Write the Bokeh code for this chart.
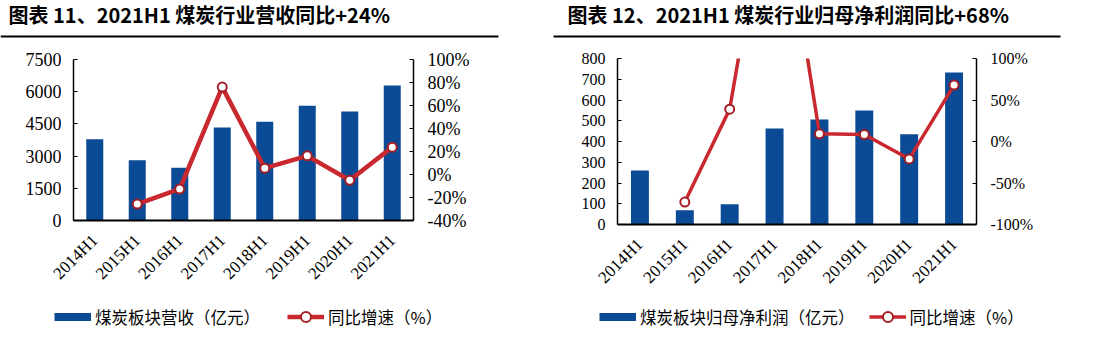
import math
from bokeh.plotting import figure
from bokeh.models import (Range1d, LinearAxis, FixedTicker, PrintfTickFormatter,
                          Legend, LegendItem, FactorRange)
from bokeh.layouts import row, column
from bokeh.core.properties import value
from bokeh.embed import file_html
from bokeh.resources import INLINE

# ---------------- data ----------------
categories = ["2014H1", "2015H1", "2016H1", "2017H1", "2018H1", "2019H1", "2020H1", "2021H1"]
yoy_categories = categories[1:]

revenue = [3780, 2810, 2455, 4330, 4600, 5340, 5080, 6290]          # 亿元
revenue_yoy = [-25.7, -12.6, 76.0, 5.5, 16.2, -5.0, 23.8]           # %
profit = [260, 69, 97, 463, 506, 549, 435, 733]                     # 亿元
profit_yoy = [-73.0, 39.0, 352.0, 9.3, 8.4, -21.0, 68.0]            # %

rev_ticks = [0, 1500, 3000, 4500, 6000, 7500]
rev_yoy_ticks = [-40, -20, 0, 20, 40, 60, 80, 100]
prof_ticks = [0, 100, 200, 300, 400, 500, 600, 700, 800]
prof_yoy_ticks = [-100, -50, 0, 50, 100]

title_left = "图表 11、2021H1 煤炭行业营收同比+24%"
title_right = "图表 12、2021H1 煤炭行业归母净利润同比+68%"
bar_label_left = "煤炭板块营收（亿元）"
bar_label_right = "煤炭板块归母净利润（亿元）"
line_label = "同比增速（%）"

BLUE = "#0B4A94"
RED = "#C9282F"
DARK_RED = "#A51E25"
CJK = "Noto Sans CJK SC"
SERIF = "Liberation Serif"
H_HEAD = 40
H_CHART = 262
H_FOOT = 46


def bare(w, h):
    f = figure(width=w, height=h, x_range=Range1d(0, w), y_range=Range1d(0, h),
               toolbar_location=None, output_backend="svg", min_border=0,
               x_axis_location=None, y_axis_location=None, frame_align=False)
    f.grid.visible = False
    f.outline_line_color = None
    return f


def header(title, w, tx, ux0, ux1):
    h = bare(w, H_HEAD)
    h.text(x=[tx], y=[26], text=[title], text_font=value(CJK), text_font_size="20px",
           text_font_style="bold", text_baseline="middle", text_align="left", text_color="black")
    h.segment(x0=[ux0], y0=[4], x1=[ux1], y1=[4], line_width=2, line_color="black")
    return h


def footer(w, bar_label, lw, loc, spacing):
    f = bare(w, H_FOOT)
    # legend proxies, placed outside the visible frame
    off = [-50, -40]
    bar_proxy = f.line(x=off, y=off, line_width=8, line_color=BLUE, line_cap="butt")
    ln = f.line(x=off, y=off, line_width=lw, line_color=RED)
    sc = f.scatter(x=off, y=off, size=9, fill_color="white", line_color=DARK_RED, line_width=2)
    legend = Legend(items=[LegendItem(label=bar_label, renderers=[bar_proxy]),
                           LegendItem(label=line_label, renderers=[ln, sc])],
                    orientation="horizontal", location=loc,
                    glyph_width=37, glyph_height=25, label_standoff=4, spacing=spacing,
                    label_text_font=CJK, label_text_font_size="16.5px",
                    label_text_color="black", padding=0, margin=0,
                    border_line_color=None, background_fill_alpha=0)
    f.add_layout(legend, "center")
    return f


def chart(w, fl, fr, ft, fb, bars, yoy, y_end, y_ticks, yoy_range, yoy_ticks, lw, tick_size):
    p = figure(width=w, height=H_CHART, x_range=FactorRange(*categories),
               y_range=Range1d(0, y_end), toolbar_location=None, output_backend="svg",
               min_border_left=fl, min_border_right=w - fr,
               min_border_top=ft, min_border_bottom=H_CHART - fb, frame_align=False)
    p.grid.visible = False
    p.outline_line_color = None
    p.extra_y_ranges = {"yoy": Range1d(*yoy_range)}

    p.vbar(x=categories, top=bars, width=0.4, fill_color=BLUE, line_color=None)
    p.line(x=yoy_categories, y=yoy, y_range_name="yoy", line_width=lw,
           line_color=RED, line_join="round")
    p.scatter(x=yoy_categories, y=yoy, y_range_name="yoy", size=9,
              fill_color="white", line_color=DARK_RED, line_width=2)

    ya = p.yaxis[0]
    ya.ticker = FixedTicker(ticks=y_ticks)
    ra = LinearAxis(y_range_name="yoy", ticker=FixedTicker(ticks=yoy_ticks),
                    formatter=PrintfTickFormatter(format="%d%%"))
    p.add_layout(ra, "right")
    for ax, st in ((ya, 12), (ra, 14)):
        ax.major_tick_in = 4
        ax.major_tick_out = 0
        ax.minor_tick_line_color = None
        ax.axis_line_width = 1.5
        ax.axis_line_color = "black"
        ax.major_tick_line_color = "black"
        ax.major_label_text_font = SERIF
        ax.major_label_text_font_size = tick_size
        ax.major_label_text_color = "black"
        ax.major_label_standoff = st

    xa = p.xaxis[0]
    xa.major_label_orientation = math.pi / 4
    xa.major_tick_line_color = None
    xa.minor_tick_line_color = None
    xa.axis_line_width = 2
    xa.axis_line_color = "black"
    xa.major_label_text_font = SERIF
    xa.major_label_text_font_size = "17px"
    xa.major_label_text_color = "black"
    xa.major_label_standoff = 11
    return p


h1 = header(title_left, 550, 8, 0, 498)
p1 = chart(550, 73, 413, 19, 180, revenue, revenue_yoy, 7500, rev_ticks, (-40, 100),
           rev_yoy_ticks, 4.5, "18px")
f1 = footer(550, bar_label_left, 4.5, (54, 19), 27)

h2 = header(title_right, 547, 17, 3, 510)
p2 = chart(547, 67, 426, 18, 184, profit, profit_yoy, 800, prof_ticks, (-100, 100),
           prof_yoy_ticks, 3.5, "16px")
f2 = footer(547, bar_label_right, 3.5, (49, 19), 14)

layout = row(column(h1, p1, f1), column(h2, p2, f2))
open("out.html", "w").write(file_html(layout, INLINE))
